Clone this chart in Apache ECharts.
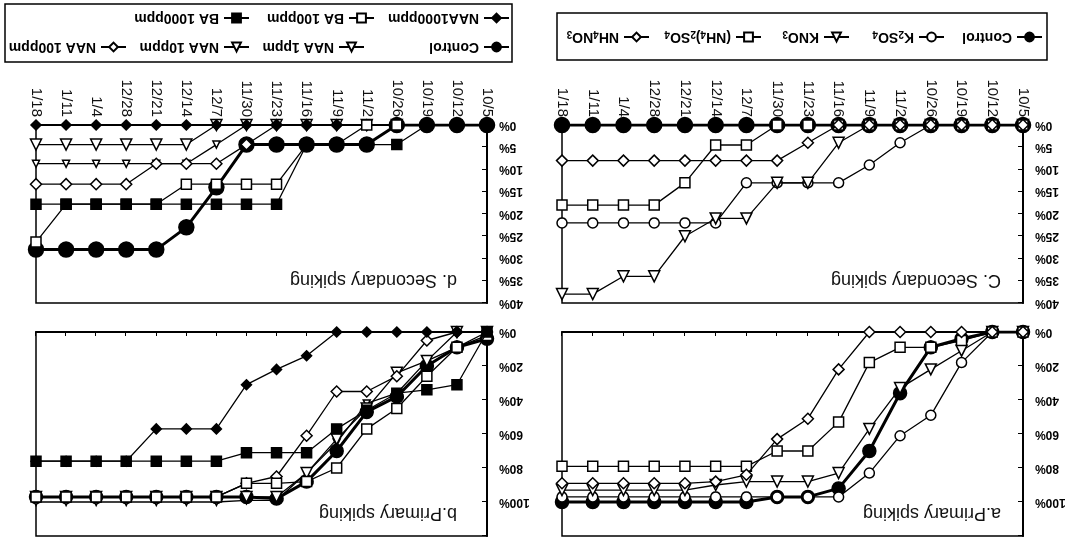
<!DOCTYPE html>
<html><head><meta charset="utf-8">
<script src="https://cdn.jsdelivr.net/npm/echarts@6/dist/echarts.min.js"></script>
<style>html,body{margin:0;padding:0;background:#fff;}#c{width:1074px;height:542px;transform:rotate(180deg);}</style>
</head><body><div id="c"></div>
<script>
// ---- data (chronological, 10/5 -> 1/18) ----
const dates = ['10/5','10/12','10/19','10/26','11/2','11/9','11/16','11/23','11/30','12/7','12/14','12/21','12/28','1/4','1/11','1/18'];
const primaryTickLabels = ['0%','20%','40%','60%','80%','100%'];
const secondaryTickLabels = ['0%','5%','10%','15%','20%','25%','30%','35%','40%'];
const panelTitles = ['a.Primary spiking','b.Primary spiking','C. Secondary spiking','d. Secondary spiking'];
const fertNames = ['Control','K2SO4','KNO3','(NH4)2SO4','NH4NO3'];
const growthNames = ['Control','NAA 1ppm','NAA 10ppm','NAA 100ppm','NAA1000ppm','BA 100ppm','BA 1000ppm'];
const legendText = {'K2SO4':'K{s|2}SO{s|4}','KNO3':'KNO{s|3}','(NH4)2SO4':'(NH{s|4}){s|2}SO{s|4}','NH4NO3':'NH{s|4}NO{s|3}'};

// panel a: primary spiking, fertilizers
const aControl = [0,0,4,9,36,70,92,97,97,100,100,100,100,100,100,100];
const aK2SO4   = [0,0,18,49,61,83,97,97,97,97,97,97,97,97,97,97];
const aKNO3    = [0,0,11,22,33,57,83,88,88,88,90,93,93,93,93,93];
const aNH42SO4 = [0,0,5,9,9,18,53,70,70,79,79,79,79,79,79,79];
const aNH4NO3  = [0,0,0,0,0,0,22,51,63,84,88,89,89,89,89,89];

// panel b: primary spiking, growth regulators
const bControl = [4,9,20,38,47,70,88,98,97,97,97,97,97,97,97,97];
const bNAA1    = [0,9,17,36,42,65,83,99,99,100,100,100,100,100,100,100];
const bNAA10   = [0,0,17,24,45,63,83,97,97,97,97,97,97,97,97,97];
const bNAA100  = [0,0,5,26,35,35,61,85,89,97,97,97,97,97,97,97];
const bNAA1000 = [0,0,0,0,0,0,14,22,31,57,57,57,76,76,76,76];
const bBA100   = [2,9,26,45,57,80,88,89,89,97,97,97,97,97,97,97];
const bBA1000  = [0,31,34,36,46,57,71,71,71,76,76,76,76,76,76,76];

// panel c: secondary spiking, fertilizers
const cControl = [0,0,0,0,0,0,0,0,0,0,0,0,0,0,0,0];
const cK2SO4   = [0,0,0,0,4,9,13,13,13,13,22,22,22,22,22,22];
const cKNO3    = [0,0,0,0,0,0,4,13,13,21,21,25,34,34,38,38];
const cNH42SO4 = [0,0,0,0,0,0,0,0,0,4.5,4.5,13,18,18,18,18];
const cNH4NO3  = [0,0,0,0,0,0,0,4,8,8,8,8,8,8,8,8];

// panel d: secondary spiking, growth regulators
const dControl = [0,0,0,0,4.4,4.4,4.4,4.4,4.4,14,23,28,28,28,28,28];
const dNAA1    = [null,null,null,0,0,0,0,0,0,4.4,8.7,8.7,8.7,8.7,8.7,8.7];
const dNAA10   = [null,null,null,0,0,0,0,0,0,0,4.4,4.4,4.4,4.4,4.4,4.4];
const dNAA100  = [null,null,null,0,0,0,0,0,4.4,8.7,8.7,8.7,13.3,13.3,13.3,13.3];
const dNAA1000 = [0,0,0,0,0,0,0,0,0,0,0,0,0,0,0,0];
const dBA100   = [null,null,null,0,0,4.4,4.4,13.3,13.3,13.3,13.3,17.8,17.8,17.8,17.8,26.3];
const dBA1000  = [0,0,0,4.4,4.4,4.4,4.4,17.8,17.8,17.8,17.8,17.8,17.8,17.8,17.8,17.8];

// ---- styles ----
const FONT = 'Liberation Sans, Arial, sans-serif';
const styleOf = {
  'Control':    {symbol:'circle',  size:14, fill:'#000', lw:3},
  'K2SO4':      {symbol:'circle',  size:10, fill:'#fff', lw:1.3},
  'KNO3':       {symbol:'triangle',size:11, fill:'#fff', lw:1.3},
  '(NH4)2SO4':  {symbol:'rect',    size:10, fill:'#fff', lw:1.3},
  'NH4NO3':     {symbol:'diamond', size:11, fill:'#fff', lw:1.3},
  'NAA 1ppm':   {symbol:'triangle',size:7,  fill:'#fff', lw:1.3},
  'NAA 10ppm':  {symbol:'triangle',size:11, fill:'#fff', lw:1.3},
  'NAA 100ppm': {symbol:'diamond', size:11, fill:'#fff', lw:1.3},
  'NAA1000ppm': {symbol:'diamond', size:10, fill:'#000', lw:1.3},
  'BA 100ppm':  {symbol:'rect',    size:10, fill:'#fff', lw:1.3},
  'BA 1000ppm': {symbol:'rect',    size:10, fill:'#000', lw:1.3}
};
const panels = [
  {grid:{left:51,top:6,width:461,height:204}, max:120, interval:20, labels:primaryTickLabels, xLabels:false, ctrl:13,
   names:fertNames, data:[aControl,aK2SO4,aKNO3,aNH42SO4,aNH4NO3]},
  {grid:{left:587,top:6,width:451,height:204}, max:120, interval:20, labels:primaryTickLabels, xLabels:false, ctrl:13,
   names:growthNames, data:[bControl,bNAA1,bNAA10,bNAA100,bNAA1000,bBA100,bBA1000]},
  {grid:{left:51,top:239,width:461,height:178}, max:40, interval:5, labels:secondaryTickLabels, xLabels:true, ctrl:15,
   names:fertNames, data:[cControl,cK2SO4,cKNO3,cNH42SO4,cNH4NO3]},
  {grid:{left:587,top:239,width:451,height:178}, max:40, interval:5, labels:secondaryTickLabels, xLabels:true, ctrl:15,
   names:growthNames, data:[dControl,dNAA1,dNAA10,dNAA100,dNAA1000,dBA100,dBA1000]}
];
const grids=[], xAxes=[], yAxes=[], series=[], titles=[];
const titlePos = [[68,15],[612,15],[68,248],[612,248]];
panels.forEach((p,i)=>{
  grids.push(Object.assign({show:true,borderColor:'#000',borderWidth:1.5,backgroundColor:'transparent'},p.grid));
  xAxes.push({type:'category',gridIndex:i,data:dates,boundaryGap:false,
    axisLine:{show:true,lineStyle:{color:'#000',width:2}},
    axisTick:{show:!p.xLabels,inside:true,length:4,lineStyle:{color:'#000'}},
    axisLabel:{show:p.xLabels,rotate:90,fontSize:15,color:'#111',fontFamily:FONT,margin:8,interval:0},
    splitLine:{show:false}});
  yAxes.push({type:'value',gridIndex:i,min:0,max:p.max,interval:p.interval,
    axisLine:{show:true,lineStyle:{color:'#000',width:2}},
    axisTick:{show:true,inside:true,length:5,lineStyle:{color:'#000'}},
    axisLabel:{fontSize:12,fontWeight:'bold',color:'#000',fontFamily:FONT,margin:12,
      formatter:v=>{const k=Math.round(v/p.interval);return k<p.labels.length?p.labels[k]:'';}},
    splitLine:{show:false}});
  titles.push({text:panelTitles[i],left:titlePos[i][0],top:titlePos[i][1],
    textStyle:{fontSize:18,fontWeight:'normal',color:'#111',fontFamily:FONT}});
  p.names.forEach((n,k)=>{
    const s=styleOf[n];
    series.push({type:'line',name:n,xAxisIndex:i,yAxisIndex:i,data:p.data[k],
      symbol:s.symbol,symbolSize:n==='Control'?p.ctrl:s.size,showAllSymbol:true,
      lineStyle:{color:'#000',width:s.lw},
      itemStyle:{color:s.fill,borderColor:'#000',borderWidth:1.5},
      z:2+k,animation:false});
  });
});
// legend items placed individually
const legendSpots = [
  ['Control',31,498],['K2SO4',129,498],['KNO3',224,498],['(NH4)2SO4',312,498],['NH4NO3',424,498],
  ['Control',564,488],['NAA 1ppm',709,488],['NAA 10ppm',824,488],['NAA 100ppm',947,488],
  ['NAA1000ppm',564,517],['BA 100ppm',699,517],['BA 1000ppm',824,517]
];
const legends = legendSpots.map(([n,x,y])=>({data:[n],left:x,top:y,orient:'horizontal',padding:0,itemGap:0,
  itemWidth:25,itemHeight:11,
  formatter:nm=>legendText[nm]||nm,
  textStyle:{fontSize:14,fontWeight:'bold',color:'#000',fontFamily:FONT,
    rich:{s:{fontSize:10,fontWeight:'bold',color:'#000',fontFamily:FONT,padding:[7,0,0,0]}}}}));
const chart = echarts.init(document.getElementById('c'),null,{renderer:'canvas'});
chart.setOption({
  backgroundColor:'#fff', animation:false,
  title:titles, grid:grids, xAxis:xAxes, yAxis:yAxes, series:series, legend:legends,
  graphic:[
    {type:'rect',shape:{x:27,y:482,width:490,height:47},style:{fill:'none',stroke:'#000',lineWidth:1.5}},
    {type:'rect',shape:{x:562,y:480,width:507,height:58},style:{fill:'none',stroke:'#000',lineWidth:1.5}}
  ]
});
</script></body></html>
